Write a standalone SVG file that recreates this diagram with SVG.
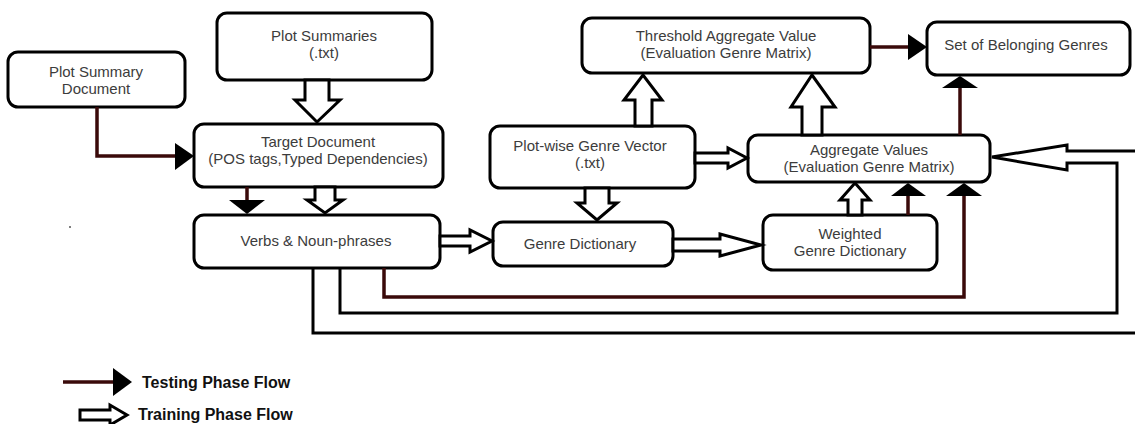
<svg xmlns="http://www.w3.org/2000/svg" width="1135" height="424" viewBox="0 0 1135 424">
<style>
.box{fill:#fff;stroke:#000;stroke-width:3}
.t{font-family:"Liberation Sans",Arial,sans-serif;font-size:15px;fill:#3c3c3c;text-anchor:middle}
.hol{fill:#fff;stroke:#000;stroke-width:3;stroke-linejoin:miter}
.red{fill:none;stroke:#3a0a0a;stroke-width:3.5}
.blk{fill:none;stroke:#000;stroke-width:3}
.head{fill:#000}
.lg{font-family:"Liberation Sans",Arial,sans-serif;font-size:16px;font-weight:bold;fill:#111}
</style>
<rect width="1135" height="424" fill="#fff"/>
<g id="n-plot-summary-doc"><rect class="box" x="8" y="52" width="177" height="55" rx="10"/><text class="t" x="96" y="77">Plot Summary</text><text class="t" x="96" y="94">Document</text></g>
<g id="n-plot-summaries"><rect class="box" x="217" y="13" width="215" height="67" rx="10"/><text class="t" x="324" y="41">Plot Summaries</text><text class="t" x="324" y="58">(.txt)</text></g>
<g id="n-target"><rect class="box" x="194" y="124" width="249" height="63" rx="10"/><text class="t" x="318" y="147">Target Document</text><text class="t" x="318" y="164">(POS tags,Typed Dependencies)</text></g>
<g id="n-verbs"><rect class="box" x="194" y="215" width="246" height="53" rx="10"/><text class="t" x="316" y="246">Verbs &amp; Noun-phrases</text></g>
<g id="n-plotwise"><rect class="box" x="490" y="126" width="205" height="62" rx="10"/><text class="t" x="590" y="151">Plot-wise Genre Vector</text><text class="t" x="590" y="168">(.txt)</text></g>
<g id="n-genre-dict"><rect class="box" x="493" y="222" width="180" height="44" rx="10"/><text class="t" x="580" y="249">Genre Dictionary</text></g>
<g id="n-weighted"><rect class="box" x="763" y="215" width="174" height="55" rx="10"/><text class="t" x="850" y="239">Weighted</text><text class="t" x="850" y="256">Genre Dictionary</text></g>
<g id="n-threshold"><rect class="box" x="582" y="18" width="288" height="55" rx="10"/><text class="t" x="726" y="41">Threshold Aggregate Value</text><text class="t" x="726" y="58">(Evaluation Genre Matrix)</text></g>
<g id="n-aggregate"><rect class="box" x="748" y="135" width="242" height="47" rx="10"/><text class="t" x="869" y="155">Aggregate Values</text><text class="t" x="869" y="172">(Evaluation Genre Matrix)</text></g>
<g id="n-set"><rect class="box" x="927" y="22" width="203" height="53" rx="10"/><text class="t" x="1026" y="50">Set of Belonging Genres</text></g>
<circle cx="70" cy="227" r="1" fill="#555"/>
<g id="connectors">
<path class="red" d="M97 107 V156 H176"/><polygon class="head" points="175,143 194,156 175,170"/>
<path class="red" d="M247 187 V201"/><polygon class="head" points="229,200 265,200 247,214"/>
<path class="red" d="M870 47 H909"/><polygon class="head" points="908,34 927,47 908,60"/>
<path class="red" d="M960 135 V87"/><polygon class="head" points="942,88 978,88 960,76"/>
<path class="red" d="M908 215 V195"/><polygon class="head" points="891,196 926,196 908,183"/>
<path class="red" d="M384 268 V297 H964 V195"/><polygon class="head" points="946,196 982,196 964,183"/>
<polygon class="hol" points="305,80 305,100 295,100 317,122 340,100 329,100 329,80"/>
<polygon class="hol" points="315,187 315,200 307,200 325,213 343,200 335,200 335,187"/>
<polygon class="hol" points="635,126 635,100 624,100 643,75 662,100 652,100 652,126"/>
<polygon class="hol" points="802,135 802,107 791,107 812,75 835,107 822,107 822,135"/>
<polygon class="hol" points="695,153 728,153 728,148 747,158 728,168 728,163 695,163"/>
<polygon class="hol" points="585,188 585,203 577,203 597,220 617,203 609,203 609,188"/>
<polygon class="hol" points="440,236 470,236 470,230 492,241 470,252 470,246 440,246"/>
<polygon class="hol" points="673,239 720,239 720,234 761,245 720,256 720,251 673,251"/>
<polygon class="hol" points="848,215 848,200 840,200 855,183 870,200 862,200 862,215"/>
<path class="blk" d="M313 268 V333 H1137"/>
<path class="blk" d="M340 268 V313 H1117 V163 H1067 V170 L992 157 L1067 145 V151 H1137"/>
</g>
<g id="legend">
<path class="red" d="M63 382 H114"/><polygon class="head" points="113,368 132,382 113,396"/>
<text class="lg" x="142" y="388">Testing Phase Flow</text>
<polygon class="hol" points="80,410 110,410 110,405 127,415 110,425 110,420 80,420"/>
<text class="lg" x="138" y="420">Training Phase Flow</text>
</g>
</svg>
